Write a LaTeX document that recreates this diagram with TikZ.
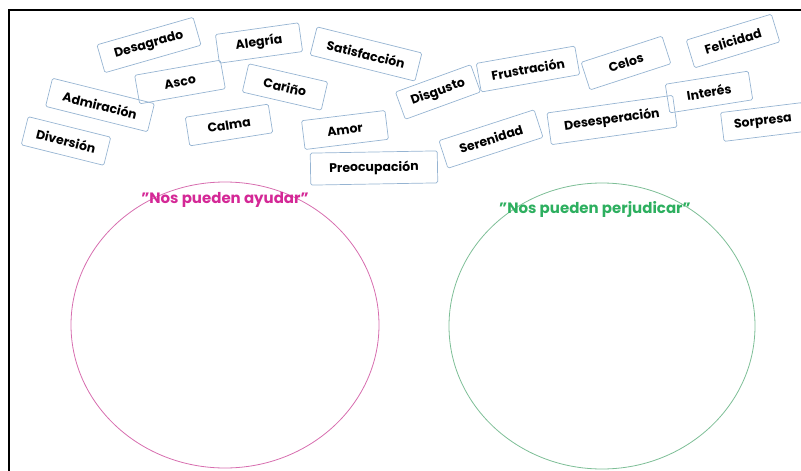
\documentclass[tikz,border=0pt]{standalone}
\usepackage{fontspec}
\setmainfont{Poppins}
\definecolor{tagblue}{RGB}{150,180,210}
\definecolor{ayudar}{RGB}{212,40,150}
\definecolor{perjudicar}{RGB}{45,175,95}
\definecolor{ayudarline}{RGB}{215,110,175}
\definecolor{perjudicarline}{RGB}{125,190,150}
\tikzset{
  emocion/.style={draw=tagblue, line width=0.7pt, rounded corners=1.5pt,
    minimum height=29pt, inner sep=1pt, font=\bfseries\fontsize{12.5}{13}\selectfont},
  titulo/.style={font=\bfseries\fontsize{15}{15}\selectfont}
}
\begin{document}
\begin{tikzpicture}[x=1pt,y=-1pt]
	\useasboundingbox (0,0) rectangle (801,471);
	\draw[line width=2pt] (9,474) -- (9,10) -- (804,10);

	% tarjetas
	\node[emocion, rotate=16, minimum width=100pt] (desagrado) at (149,45) {Desagrado};
	\node[emocion, rotate=10, minimum width=87pt] (asco) at (180,82) {Asco};
	\node[emocion, rotate=-14, minimum width=105pt] (admiracion) at (100,105) {Admiración};
	\node[emocion, rotate=-14, minimum width=85pt] (diversion) at (66,141) {Diversión};
	\node[emocion, rotate=8, minimum width=84pt] (alegria) at (259,43) {Alegría};
	\node[emocion, rotate=-13, minimum width=81pt] (carino) at (285,87) {Cariño};
	\node[emocion, rotate=9, minimum width=84pt] (calma) at (229,125) {Calma};
	\node[emocion, rotate=-14, minimum width=108pt] (satisfaccion) at (366,54) {Satisfacción};
	\node[emocion, rotate=7, minimum width=84pt] (amor) at (345,130) {Amor};
	\node[emocion, rotate=1, minimum width=127pt, minimum height=32pt] (preocupacion) at (374,168) {Preocupación};
	\node[emocion, rotate=20, minimum width=80pt] (disgusto) at (438,92) {Disgusto};
	\node[emocion, rotate=10, minimum width=100pt] (frustracion) at (528,69) {Frustración};
	\node[emocion, rotate=18, minimum width=100pt] (serenidad) at (491,139) {Serenidad};
	\node[emocion, rotate=18, minimum width=85pt] (celos) at (626,63) {Celos};
	\node[emocion, rotate=17, minimum width=89pt] (felicidad) at (733,41) {Felicidad};
	\node[emocion, rotate=8, minimum width=127pt, minimum height=32pt] (desesperacion) at (612,120) {Desesperación};
	\node[emocion, rotate=9, minimum width=84pt] (interes) at (709,92) {Interés};
	\node[emocion, rotate=7, minimum width=82pt] (sorpresa) at (763,122) {Sorpresa};

	% circulos
	\draw[ayudarline, line width=0.8pt] (225,325) ellipse [x radius=154, y radius=143];
	\draw[perjudicarline, line width=0.8pt] (602,326) ellipse [x radius=153, y radius=143];
	\node[titulo, text=ayudar] (ayuda) at (225,200) {"Nos pueden ayudar"};
	\node[titulo, text=perjudicar] (perjuicio) at (595,209) {"Nos pueden perjudicar"};
\end{tikzpicture}
\end{document}
